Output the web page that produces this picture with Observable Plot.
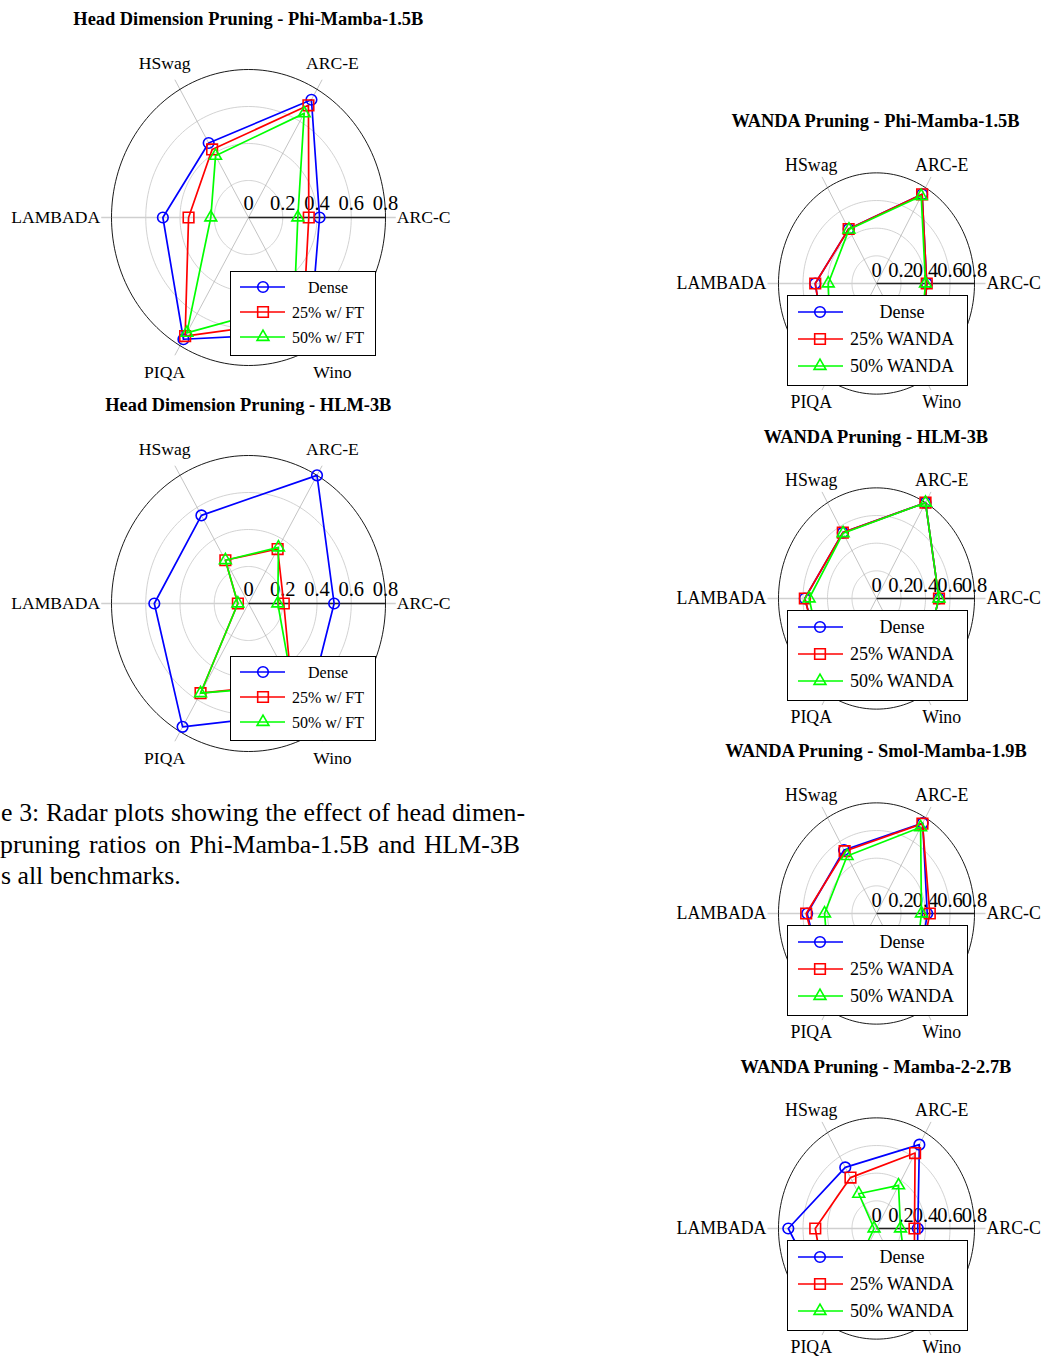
<!DOCTYPE html>
<html>
<head>
<meta charset="utf-8">
<script src="https://cdn.jsdelivr.net/npm/d3@7"></script>
<script src="https://cdn.jsdelivr.net/npm/@observablehq/plot@0.6"></script>
<style>
  html, body { margin:0; padding:0; background:#fff; }
  body { width:1043px; height:1356px; position:relative; overflow:hidden; font-family:"Liberation Serif","Times New Roman",serif; color:#000; }
  .title { position:absolute; font-weight:bold; font-size:18.4px; white-space:nowrap; transform:translate(-50%,-50%); line-height:1.1; }
  .legend { position:absolute; background:#fff; border:1px solid #000; box-sizing:border-box; }
  .legend svg { position:absolute; left:0; top:0; overflow:visible; }
  .cap { position:absolute; font-size:25.8px; line-height:31.5px; white-space:nowrap; }
  .cap.j { text-align:justify; text-align-last:justify; }
</style>
</head>
<body>
<script>
// ---------- shared categories / ticks ----------
const AXES = ["ARC-C", "ARC-E", "HSwag", "LAMBADA", "PIQA", "Wino"];
const TICK_VALUES = [0, 0.2, 0.4, 0.6, 0.8];
const TICK_LABELS = ["0", "0.2", "0.4", "0.6", "0.8"];
const GRID_LEVELS = [0.2, 0.4, 0.6];
const OUTER_LEVEL = 0.8;

const SERIES_HD = ["Dense", "25% w/ FT", "50% w/ FT"];
const SERIES_WANDA = ["Dense", "25% WANDA", "50% WANDA"];

// ---------- values (ARC-C, ARC-E, HSwag, LAMBADA, PIQA, Wino) ----------
const hdPhi_dense = [0.415, 0.735, 0.465, 0.50, 0.76, 0.72];
const hdPhi_25    = [0.352, 0.70, 0.425, 0.35, 0.74, 0.64];
const hdPhi_50    = [0.288, 0.65, 0.385, 0.22, 0.72, 0.535];

const hdHlm_dense = [0.50, 0.80, 0.55, 0.55, 0.77, 0.68];
const hdHlm_25    = [0.206, 0.34, 0.27, 0.062, 0.56, 0.50];
const hdHlm_50    = [0.171, 0.35, 0.27, 0.062, 0.56, 0.513];

const wPhi_dense  = [0.41, 0.745, 0.455, 0.50, 0.76, 0.72];
const wPhi_25     = [0.41, 0.745, 0.455, 0.50, 0.76, 0.71];
const wPhi_50     = [0.40, 0.73, 0.45, 0.394, 0.74, 0.68];

const wHlm_dense  = [0.51, 0.80, 0.55, 0.585, 0.77, 0.68];
const wHlm_25     = [0.51, 0.80, 0.55, 0.585, 0.77, 0.68];
const wHlm_50     = [0.51, 0.80, 0.545, 0.55, 0.77, 0.67];

const wSmol_dense = [0.414, 0.755, 0.53, 0.566, 0.76, 0.65];
const wSmol_25    = [0.435, 0.75, 0.52, 0.574, 0.76, 0.63];
const wSmol_50    = [0.367, 0.72, 0.48, 0.424, 0.73, 0.60];

const wM2_dense   = [0.337, 0.70, 0.51, 0.72, 0.72, 0.66];
const wM2_25      = [0.31, 0.63, 0.425, 0.50, 0.74, 0.62];
const wM2_50      = [0.196, 0.36, 0.29, 0.02, 0.55, 0.53];

// ---------- caption lines (cut at the page's left edge in the reference) ----------
const CAPTION_LINES = [
  "e 3: Radar plots showing the effect of head dimen-",
  "pruning ratios on Phi-Mamba-1.5B and HLM-3B",
  "s all benchmarks."
];

// ---------- styles ----------
const COLORS = ["#0000ff", "#ff0000", "#00ff00"];
const SYMBOLS = ["circle", "square", "triangle"];
const SYM_R = [5.3, 6.0, 4.4];
const FONT = "Liberation Serif, Times New Roman, serif";
const LW = 1.7;

const LEFT = {
  sx: 171.25, sy: 185, spokeR: 0.86, labelRx: 0.98, labelRy: 0.965, labelFont: 17.6, tickFont: 20.5, tickDy: -14,
  box: {l: -248, t: -182, w: 460, h: 375},
  legend: {dx: -18.3, dy: 53.7, w: 146, h: 85, rows: [16, 41, 66], lineX: [9, 54], markX: 32, textX: 97, font: 16}
};
const RIGHT = {
  sx: 122.5, sy: 138.3, spokeR: 0.89, labelRx: 1.065, labelRy: 0.99, labelFont: 17.8, tickFont: 20.5, tickDy: -13,
  box: {l: -215, t: -150, w: 380, h: 285},
  legend: {dx: -89, dy: 12.3, w: 181, h: 91, rows: [17, 44, 71], lineX: [10, 55], markX: 32, textX: 114, font: 18}
};

const charts = [
  {title: "Head Dimension Pruning - Phi-Mamba-1.5B", names: SERIES_HD, values: [hdPhi_dense, hdPhi_25, hdPhi_50], cx: 248.3, cy: 217.3, ty: 19, L: LEFT},
  {title: "Head Dimension Pruning - HLM-3B", names: SERIES_HD, values: [hdHlm_dense, hdHlm_25, hdHlm_50], cx: 248.3, cy: 602.7, ty: 405, L: LEFT},
  {title: "WANDA Pruning - Phi-Mamba-1.5B", names: SERIES_WANDA, values: [wPhi_dense, wPhi_25, wPhi_50], cx: 875.5, cy: 282.7, ty: 121, L: RIGHT},
  {title: "WANDA Pruning - HLM-3B", names: SERIES_WANDA, values: [wHlm_dense, wHlm_25, wHlm_50], cx: 876, cy: 597.7, ty: 437, L: RIGHT},
  {title: "WANDA Pruning - Smol-Mamba-1.9B", names: SERIES_WANDA, values: [wSmol_dense, wSmol_25, wSmol_50], cx: 876, cy: 912.7, ty: 751, L: RIGHT},
  {title: "WANDA Pruning - Mamba-2-2.7B", names: SERIES_WANDA, values: [wM2_dense, wM2_25, wM2_50], cx: 876, cy: 1227.7, ty: 1067, L: RIGHT}
];

const ang = i => i * Math.PI / 3;
const deg = a => a * Math.PI / 180;

function circleRows(level, key) {
  return d3.range(0, 361, 2).map(a => ({k: key, x: level * Math.cos(deg(a)), y: level * Math.sin(deg(a))}));
}

function radar(spec) {
  const L = spec.L;
  const ox = spec.cx + L.box.l, oy = spec.cy + L.box.t;
  const px0 = spec.cx - ox, py0 = spec.cy - oy;

  const gridRows = GRID_LEVELS.flatMap(lv => circleRows(lv, lv));
  const outerRows = circleRows(OUTER_LEVEL, "outer");
  const spokes = AXES.map((name, i) => ({name, i}));
  const diag = spokes.filter(d => d.i !== 0 && d.i !== 3);

  const marks = [
    Plot.line(gridRows, {x: "x", y: "y", z: "k", stroke: "#c6c6c6", strokeWidth: 0.8}),
    Plot.link(diag, {
      x1: () => 0, y1: () => 0,
      x2: d => L.spokeR * Math.cos(ang(d.i)), y2: d => L.spokeR * Math.sin(ang(d.i)),
      stroke: "#ababab", strokeWidth: 0.7
    }),
    Plot.link([0], {x1: () => -L.spokeR, y1: () => 0, x2: () => L.spokeR, y2: () => 0, stroke: "#cfcfcf", strokeWidth: 1.6}),
    Plot.line(outerRows, {x: "x", y: "y", stroke: "#000", strokeWidth: 0.9}),
    Plot.link([0], {x1: () => 0, y1: () => 0, x2: () => OUTER_LEVEL, y2: () => 0, stroke: "#222", strokeWidth: 1.3}),
    Plot.text(TICK_VALUES, {x: d => d, y: () => 0, text: (d, i) => TICK_LABELS[i], dy: L.tickDy, fontSize: L.tickFont, fontFamily: FONT, fill: "#000"}),
    Plot.text(diag, {x: d => L.labelRx * Math.cos(ang(d.i)), y: d => L.labelRy * Math.sin(ang(d.i)), text: "name", fontSize: L.labelFont, fontFamily: FONT, fill: "#000", textAnchor: "middle"}),
    Plot.text(spokes.filter(d => d.i === 0), {x: () => L.spokeR, y: () => 0, text: "name", dx: 1, fontSize: L.labelFont, fontFamily: FONT, fill: "#000", textAnchor: "start"}),
    Plot.text(spokes.filter(d => d.i === 3), {x: () => -L.spokeR, y: () => 0, text: "name", dx: -1, fontSize: L.labelFont, fontFamily: FONT, fill: "#000", textAnchor: "end"})
  ];

  spec.values.forEach((vals, s) => {
    const pts = vals.map((v, i) => ({axis: AXES[i], v, x: v * Math.cos(ang(i)), y: v * Math.sin(ang(i))}));
    marks.push(Plot.line([...pts, pts[0]], {x: "x", y: "y", stroke: COLORS[s], strokeWidth: LW}));
    marks.push(Plot.dot(pts, {x: "x", y: "y", stroke: COLORS[s], fill: "none", symbol: SYMBOLS[s], r: SYM_R[s], strokeWidth: 1.6}));
  });

  const svg = Plot.plot({
    width: L.box.w, height: L.box.h, margin: 0,
    x: {type: "linear", domain: [0, 1], range: [px0, px0 + L.sx], axis: null},
    y: {type: "linear", domain: [0, 1], range: [py0, py0 - L.sy], axis: null},
    style: {background: "transparent", overflow: "visible", fontFamily: FONT},
    marks
  });
  svg.style.position = "absolute";
  svg.style.left = ox + "px";
  svg.style.top = oy + "px";
  svg.style.maxWidth = "none";
  document.body.appendChild(svg);

  // title
  const t = document.createElement("div");
  t.className = "title";
  t.textContent = spec.title;
  t.style.left = spec.cx + "px";
  t.style.top = spec.ty + "px";
  document.body.appendChild(t);

  // legend
  const G = L.legend;
  const lg = document.createElement("div");
  lg.className = "legend";
  lg.style.left = (spec.cx + G.dx) + "px";
  lg.style.top = (spec.cy + G.dy) + "px";
  lg.style.width = G.w + "px";
  lg.style.height = G.h + "px";
  let inner = `<svg width="${G.w}" height="${G.h}" xmlns="http://www.w3.org/2000/svg">`;
  spec.names.forEach((name, s) => {
    const y = G.rows[s] - 1;
    const typ = s === 0 ? d3.symbolCircle : s === 1 ? d3.symbolSquare : d3.symbolTriangle;
    const path = d3.symbol().type(typ).size(Math.PI * SYM_R[s] * SYM_R[s])();
    inner += `<line x1="${G.lineX[0]}" x2="${G.lineX[1]}" y1="${y}" y2="${y}" stroke="${COLORS[s]}" stroke-width="${LW}"/>`;
    inner += `<path d="${path}" transform="translate(${G.markX},${y})" fill="none" stroke="${COLORS[s]}" stroke-width="1.6"/>`;
    inner += `<text x="${G.textX}" y="${y}" text-anchor="middle" dominant-baseline="central" font-family="${FONT}" font-size="${G.font}">${name}</text>`;
  });
  inner += `</svg>`;
  lg.innerHTML = inner;
  document.body.appendChild(lg);
}

charts.forEach(radar);

// caption
const capLayout = [
  {left: 1, top: 797, width: 524, just: true},
  {left: 0, top: 829, width: 520, just: true},
  {left: 1, top: 860, width: null, just: false}
];
CAPTION_LINES.forEach((text, k) => {
  const c = capLayout[k];
  const d = document.createElement("div");
  d.className = "cap" + (c.just ? " j" : "");
  d.style.left = c.left + "px";
  d.style.top = c.top + "px";
  if (c.width) d.style.width = c.width + "px";
  d.textContent = text;
  document.body.appendChild(d);
});
</script>
</body>
</html>
